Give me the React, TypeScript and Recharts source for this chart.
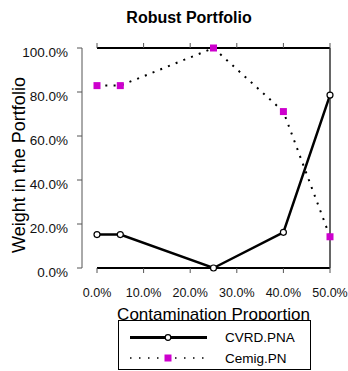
import React from 'react';
import { LineChart, Line, XAxis, YAxis, Legend } from 'recharts';

// contamination proportion on x, portfolio weight on y
const proportions = [0, 0.05, 0.25, 0.4, 0.5];
const cvrdWeights = [0.152, 0.152, 0.0, 0.162, 0.786];
const cemigWeights = [0.829, 0.829, 1.0, 0.711, 0.142];
const xTicks = [0, 0.1, 0.2, 0.3, 0.4, 0.5];
const yTicks = [0, 0.2, 0.4, 0.6, 0.8, 1.0];
const seriesNames = ['CVRD.PNA', 'Cemig.PN'];

const data = proportions.map((p, i) => ({
  p,
  cvrd: cvrdWeights[i],
  cemig: cemigWeights[i],
}));

const FONT = 'Liberation Sans, Arial, Helvetica, sans-serif';
const MAGENTA = '#CD00CD';
const pct = (v: number) => `${(v * 100).toFixed(1)}%`;

const SquareDot = (props: any) => {
  const { cx, cy, index } = props;
  if (cx == null || cy == null) return <g key={index} />;
  return <rect key={index} x={cx - 3.5} y={cy - 3.5} width={7} height={7} fill={MAGENTA} />;
};

const NoTick = () => <g />;

const TitleLabel = (props: any) => {
  const vb = props.viewBox || { x: 0, y: 0 };
  return (
    <text x={vb.x + 92} y={23} textAnchor="middle" fontFamily={FONT} fontSize={16} fontWeight="bold" fill="#000">
      Robust Portfolio
    </text>
  );
};

const XTitle = (props: any) => {
  const vb = props.viewBox || { x: 0, y: 0, width: 0 };
  return (
    <text x={vb.x + vb.width / 2} y={vb.y + 52} textAnchor="middle" fontFamily={FONT} fontSize={17} fill="#000">
      Contamination Proportion
    </text>
  );
};

const YTitle = (props: any) => {
  const vb = props.viewBox || { x: 0, y: 0, height: 0 };
  const cy = vb.y + vb.height / 2 + 7;
  return (
    <text x={25} y={cy} transform={`rotate(-90 25 ${cy})`} textAnchor="middle" fontFamily={FONT} fontSize={18} fill="#000">
      Weight in the Portfolio
    </text>
  );
};

const LegendBox = () => (
  <svg width={194} height={52} style={{ display: 'block' }}>
    <rect x={0.5} y={0.5} width={192} height={49} fill="#fff" stroke="#000" strokeWidth={1} />
    <line x1={12} y1={17.5} x2={89} y2={17.5} stroke="#000" strokeWidth={3} />
    <circle cx={50} cy={17.5} r={2.8} fill="#fff" stroke="#000" strokeWidth={1.2} />
    <text x={107} y={22} fontFamily={FONT} fontSize={13.5} fill="#000">{seriesNames[0]}</text>
    <line x1={12} y1={38} x2={89} y2={38} stroke="#000" strokeWidth={1.5} strokeDasharray="1.5 7.5" />
    <rect x={46.5} y={34.5} width={7} height={7} fill={MAGENTA} />
    <text x={107} y={43} fontFamily={FONT} fontSize={13.5} fill="#000">{seriesNames[1]}</text>
  </svg>
);

export default function App() {
  return (
    <div style={{ position: 'absolute', left: 0, top: 0, background: '#fff' }}>
      <LineChart width={348} height={371} data={data} margin={{ top: 0, right: 0, bottom: 0, left: 0 }}>
        <XAxis
          xAxisId="b"
          dataKey="p"
          type="number"
          domain={[0, 0.5]}
          ticks={xTicks}
          tickFormatter={pct}
          orientation="bottom"
          height={103}
          axisLine={{ stroke: '#000', strokeWidth: 2 }}
          tickLine={{ stroke: '#555' }}
          tickSize={5}
          tickMargin={15}
          tick={{ fontSize: 12.5, fill: '#111', fontFamily: FONT }}
          label={XTitle}
        />
        <XAxis
          xAxisId="t"
          dataKey="p"
          type="number"
          domain={[0, 0.5]}
          ticks={xTicks}
          orientation="top"
          height={48}
          axisLine={{ stroke: '#000', strokeWidth: 2 }}
          tickLine={{ stroke: '#555' }}
          tickSize={5}
          tick={NoTick}
          label={TitleLabel}
        />
        <YAxis
          yAxisId="sl"
          orientation="left"
          width={15}
          axisLine={false}
          tickLine={false}
          tick={false}
        />
        <YAxis
          yAxisId="w"
          type="number"
          domain={[0, 1]}
          ticks={yTicks}
          tickFormatter={pct}
          orientation="left"
          width={82}
          axisLine={{ stroke: '#555' }}
          tickLine={{ stroke: '#555' }}
          tickSize={5}
          tickMargin={9}
          tick={{ fontSize: 13.5, fill: '#111', fontFamily: FONT, dy: 4 }}
          label={YTitle}
        />
        <YAxis
          yAxisId="sr"
          orientation="right"
          width={15}
          axisLine={false}
          tickLine={false}
          tick={false}
        />
        <YAxis
          yAxisId="r"
          type="number"
          domain={[0, 1]}
          ticks={yTicks}
          orientation="right"
          width={3}
          axisLine={{ stroke: '#333', strokeWidth: 1.5 }}
          tickLine={{ stroke: '#555' }}
          tickSize={5}
          tick={NoTick}
        />
        <Legend
          layout="vertical"
          align="center"
          verticalAlign="middle"
          content={LegendBox}
          wrapperStyle={{ position: 'absolute', left: 118, top: 320, width: 194, height: 52 }}
        />
        <Line
          xAxisId="b"
          yAxisId="w"
          dataKey="cvrd"
          name={seriesNames[0]}
          stroke="#000"
          strokeWidth={2.5}
          dot={{ r: 3, fill: '#fff', stroke: '#000', strokeWidth: 1.2 }}
          activeDot={false}
          isAnimationActive={false}
        />
        <Line
          xAxisId="b"
          yAxisId="w"
          dataKey="cemig"
          name={seriesNames[1]}
          stroke="#000"
          strokeWidth={2}
          strokeDasharray="2 6.3"
          dot={SquareDot}
          activeDot={false}
          isAnimationActive={false}
        />
      </LineChart>
    </div>
  );
}
